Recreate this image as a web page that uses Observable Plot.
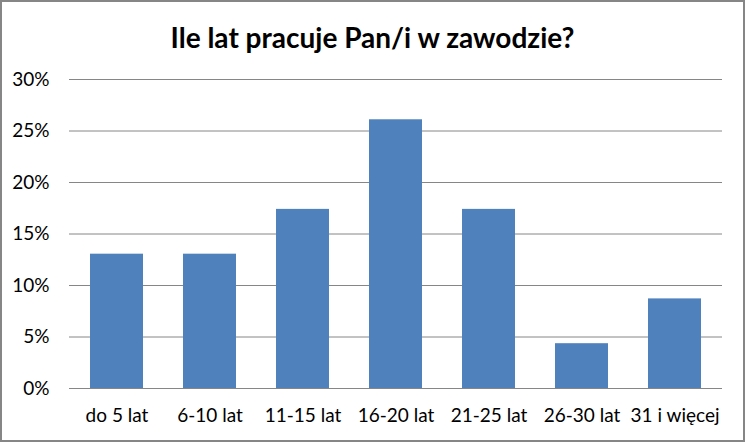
<!DOCTYPE html>
<html>
<head>
<meta charset="utf-8">
<script src="https://cdn.jsdelivr.net/npm/d3@7"></script>
<script src="https://cdn.jsdelivr.net/npm/@observablehq/plot@0.6"></script>
<style>
  html, body { margin: 0; padding: 0; background: #fff; }
  #chart { position: relative; width: 745px; height: 442px; overflow: hidden; font-family: Lato, "Open Sans", sans-serif; }
  #frame { position: absolute; left: 0; top: 0; width: 745px; height: 442px; box-sizing: border-box; border: 2px solid #868686; pointer-events: none; }
  #title { position: absolute; left: 0; top: 19px; width: 745px; text-align: center; font-weight: bold; font-size: 28px; color: #000; line-height: 36px; }
  #chart svg { position: absolute; left: 0; top: 0; }
</style>
</head>
<body>
<div id="chart">
  <div id="title">Ile lat pracuje Pan/i w zawodzie?</div>
  <div id="frame"></div>
</div>
<script>
const categories = ["do 5 lat", "6-10 lat", "11-15 lat", "16-20 lat", "21-25 lat", "26-30 lat", "31 i więcej"];
const values = [0.1304, 0.1304, 0.1739, 0.2609, 0.1739, 0.0435, 0.0870];
const yTicks = [0, 0.05, 0.10, 0.15, 0.20, 0.25, 0.30];

const data = categories.map((c, i) => ({category: c, value: values[i]}));

const plot = Plot.plot({
  width: 745,
  height: 442,
  marginLeft: 69,
  marginRight: 23,
  marginTop: 79,
  marginBottom: 54,
  style: {fontFamily: "Lato, 'Open Sans', sans-serif", fontSize: "19px", color: "#000", background: "transparent", overflow: "visible"},
  x: {domain: categories, paddingInner: 0.43, paddingOuter: 0.215, label: null},
  y: {domain: [0, 0.30], label: null},
  marks: [
    Plot.gridY(yTicks, {stroke: "#868686", strokeOpacity: 1, strokeWidth: 1}),
    Plot.barY(data, {x: "category", y: "value", fill: "#4F81BD"}),
    Plot.axisY(yTicks, {tickSize: 0, tickPadding: 20, tickFormat: d => Math.round(d * 100) + "%", label: null, fill: "#000"}),
    Plot.axisX({tickSize: 0, tickPadding: 20, label: null, fill: "#000"})
  ]
});
document.getElementById("chart").insertBefore(plot, document.getElementById("frame"));
</script>
</body>
</html>
